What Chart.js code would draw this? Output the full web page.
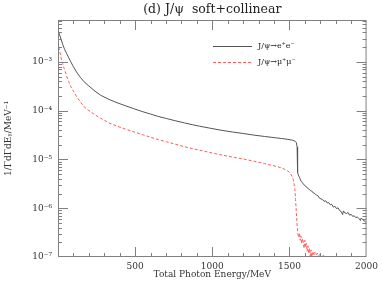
<!DOCTYPE html>
<html lang="en">
<head>
    <meta charset="UTF-8">
    <title>J/psi soft+collinear photon spectrum</title>
    <script src="https://cdn.jsdelivr.net/npm/chart.js"></script>
    <style>
        html, body {
            margin: 0;
            padding: 0;
            background: #ffffff;
        }
        #wrap {
            width: 382px;
            height: 283px;
        }
    </style>
</head>
<body>
    <div id="wrap"><canvas id="spectrum"></canvas></div>

    <script>
        // photon energy (MeV) and 1/Gamma dGamma/dE for J/psi -> e+e-
        const eeEnergy = [5, 10, 20, 30, 40, 55, 70, 83, 100, 120, 145, 169, 200, 240, 276, 330, 383, 440, 489, 550,
            600, 650, 703, 760, 820, 870, 917, 980, 1050, 1130, 1200, 1270, 1340, 1400, 1450, 1490, 1520, 1535, 1545, 1550,
            1553, 1558, 1565, 1575, 1585, 1595, 1605, 1615, 1625, 1635, 1645, 1655, 1665, 1675, 1685, 1695, 1705, 1715,
            1725, 1735, 1745, 1755, 1765, 1775, 1785, 1795, 1805, 1815, 1825, 1835, 1845, 1850, 1860, 1870, 1880, 1890,
            1900, 1910, 1920, 1930, 1940, 1950, 1960, 1965, 1975, 1985, 1995, 2000];
        const eeRate = [4.1e-3, 3.6e-3, 2.9e-3, 2.3e-3, 1.9e-3, 1.5e-3, 1.2e-3, 1.0e-3, 7.9e-4, 6.2e-4, 4.8e-4, 3.9e-4,
            3.2e-4, 2.5e-4, 2.07e-4, 1.7e-4, 1.45e-4, 1.25e-4, 1.1e-4, 9.5e-5,
            8.5e-5, 7.6e-5, 6.9e-5, 6.2e-5, 5.6e-5, 5.15e-5, 4.8e-5, 4.4e-5, 4.0e-5, 3.65e-5, 3.4e-5, 3.15e-5, 2.95e-5,
            2.8e-5, 2.68e-5, 2.58e-5, 2.48e-5, 2.38e-5, 2.2e-5, 1.8e-5,
            5.4e-6, 4.8e-6, 4.3e-6, 3.6e-6, 3.3e-6, 3.0e-6, 2.85e-6, 2.6e-6, 2.5e-6, 2.3e-6, 2.25e-6, 2.05e-6, 2.0e-6,
            1.85e-6, 1.8e-6, 1.6e-6, 1.55e-6, 1.5e-6, 1.38e-6, 1.42e-6, 1.28e-6, 1.3e-6, 1.18e-6, 1.2e-6, 1.05e-6,
            1.1e-6, 9.8e-7, 1.02e-6, 9.0e-7, 8.6e-7, 7.4e-7, 8.8e-7, 8.0e-7, 7.8e-7, 8.2e-7, 7.2e-7,
            7.5e-7, 6.8e-7, 7.0e-7, 6.4e-7, 6.6e-7, 6.2e-7, 5.6e-7, 6.3e-7, 5.8e-7, 5.5e-7, 5.2e-7, 5.3e-7];

        // same for J/psi -> mu+mu-
        const mmEnergy = [5, 10, 20, 30, 40, 55, 70, 83, 100, 120, 145, 169, 200, 240, 276, 330, 383, 440, 489, 550,
            600, 650, 703, 760, 820, 870, 917, 980, 1050, 1130, 1200, 1270, 1340, 1400, 1450, 1490, 1510, 1525, 1535, 1540,
            1545, 1550, 1555, 1560, 1565, 1570, 1575, 1580, 1585, 1590, 1595, 1600, 1605, 1610, 1615, 1620, 1625, 1630,
            1635, 1640, 1645, 1650, 1660, 1665, 1670, 1680, 1690, 1700, 1710, 1720, 1730, 1740, 1750, 1760];
        const mmRate = [2.0e-3, 1.7e-3, 1.2e-3, 9.2e-4, 7.3e-4, 5.2e-4, 3.9e-4, 3.1e-4, 2.5e-4, 1.95e-4, 1.5e-4, 1.2e-4,
            1.0e-4, 8.2e-5, 7.0e-5, 5.6e-5, 4.8e-5, 4.15e-5, 3.7e-5, 3.2e-5,
            2.85e-5, 2.55e-5, 2.3e-5, 2.05e-5, 1.82e-5, 1.67e-5, 1.55e-5, 1.4e-5, 1.25e-5, 1.12e-5, 1.02e-5, 9.2e-6, 8.2e-6,
            7.4e-6, 6.7e-6, 5.8e-6, 5.0e-6, 3.9e-6, 2.5e-6, 1.5e-6,
            8.0e-7, 4.5e-7, 3.0e-7, 2.5e-7, 3.1e-7, 2.2e-7, 2.7e-7, 1.9e-7, 2.4e-7, 2.0e-7, 1.5e-7, 2.2e-7, 1.6e-7,
            1.9e-7, 1.3e-7, 1.7e-7, 1.2e-7, 1.5e-7, 1.05e-7, 1.4e-7, 9.0e-8, 1.3e-7, 1.1e-7, 1.25e-7, 9.5e-8, 1.2e-7,
            1.05e-7, 1.15e-7, 9.0e-8, 1.1e-7, 1.05e-7, 8.0e-8, 1.02e-7, 6.0e-8];

        const xLabels = [500, 1000, 1500, 2000];
        const yDecades = [1e-7, 1e-6, 1e-5, 1e-4, 1e-3];
        const yDecadeText = ['10\u207B\u2077', '10\u207B\u2076', '10\u207B\u2075', '10\u207B\u2074', '10\u207B\u00B3'];
        const plotTitle = '(d) J/\u03C8  soft+collinear';

        const serif = '"DejaVu Serif", "Liberation Serif", serif';

        function toPoints(xs, ys) {
            return xs.map((x, i) => ({ x: x, y: ys[i] }));
        }

        // title over the plot frame, frame, inward ticks on all four sides, legend
        const frameTicks = {
            id: 'frameTicks',
            afterDraw(chart) {
                const ctx = chart.ctx;
                const a = chart.chartArea;
                const xs = chart.scales.x;
                const ys = chart.scales.y;
                ctx.save();

                ctx.font = '12.5px ' + serif;
                ctx.fillStyle = '#222';
                ctx.textAlign = 'center';
                ctx.textBaseline = 'middle';
                ctx.fillText(plotTitle, (a.left + a.right) / 2, 10);

                ctx.strokeStyle = '#808080';
                ctx.lineWidth = 1;
                ctx.strokeRect(a.left + 0.5, a.top + 0.5, a.right - a.left - 1, a.bottom - a.top - 1);

                ctx.beginPath();
                for (let v = 100; v < 2000; v += 100) {
                    const px = Math.round(xs.getPixelForValue(v)) + 0.5;
                    const len = v % 500 === 0 ? 10 : 4;
                    ctx.moveTo(px, a.bottom);
                    ctx.lineTo(px, a.bottom - len);
                    ctx.moveTo(px, a.top);
                    ctx.lineTo(px, a.top + len);
                }
                for (let d = -7; d <= -3; d++) {
                    for (let m = 1; m <= 9; m++) {
                        const v = m * Math.pow(10, d);
                        if (v > ys.max) break;
                        const py = Math.round(ys.getPixelForValue(v)) + 0.5;
                        if (py < a.top || py > a.bottom) continue;
                        const len = m === 1 ? 10 : 4;
                        ctx.moveTo(a.left, py);
                        ctx.lineTo(a.left + len, py);
                        ctx.moveTo(a.right, py);
                        ctx.lineTo(a.right - len, py);
                    }
                }
                ctx.stroke();

                // legend
                ctx.font = '8px ' + serif;
                ctx.textAlign = 'left';
                ctx.textBaseline = 'middle';
                ctx.fillStyle = '#222';
                chart.data.datasets.forEach((ds, i) => {
                    const y = a.top + 26 + i * 16;
                    ctx.beginPath();
                    ctx.strokeStyle = ds.borderColor;
                    ctx.setLineDash(ds.borderDash || []);
                    ctx.moveTo(213, y + 0.5);
                    ctx.lineTo(252, y + 0.5);
                    ctx.stroke();
                    ctx.fillText(ds.label, 258, y);
                });
                ctx.restore();
            }
        };

        new Chart(document.getElementById('spectrum'), {
            type: 'line',
            data: {
                datasets: [{
                    label: 'J/\u03C8\u2192e\u207Ae\u207B',
                    data: toPoints(eeEnergy, eeRate),
                    borderColor: '#555555',
                    borderWidth: 1,
                    pointRadius: 0,
                    tension: 0
                }, {
                    label: 'J/\u03C8\u2192\u03BC\u207A\u03BC\u207B',
                    data: toPoints(mmEnergy, mmRate),
                    borderColor: '#ff5c5c',
                    borderWidth: 1,
                    borderDash: [3, 2],
                    pointRadius: 0,
                    tension: 0
                }]
            },
            options: {
                responsive: true,
                maintainAspectRatio: false,
                animation: false,
                layout: { padding: { left: 0, right: 12, top: 20, bottom: 0 } },
                plugins: {
                    legend: { display: false },
                    tooltip: { enabled: false },
                    title: { display: false }
                },
                scales: {
                    x: {
                        type: 'linear',
                        min: 0,
                        max: 2000,
                        grid: { display: false, drawTicks: false },
                        border: { display: false },
                        afterBuildTicks: s => { s.ticks = xLabels.map(v => ({ value: v })); },
                        afterFit: s => { s.height = 26; },
                        ticks: {
                            padding: 4,
                            maxRotation: 0,
                            autoSkip: false,
                            color: '#333',
                            font: { family: serif, size: 9 },
                            callback: value => String(value)
                        },
                        title: {
                            display: true,
                            text: 'Total Photon Energy/MeV',
                            color: '#333',
                            font: { family: serif, size: 9 },
                            padding: { top: 0, bottom: 3 }
                        }
                    },
                    y: {
                        type: 'logarithmic',
                        min: 1e-7,
                        max: 7.2e-3,
                        grid: { display: false, drawTicks: false },
                        border: { display: false },
                        afterBuildTicks: s => { s.ticks = yDecades.map(v => ({ value: v })); },
                        afterFit: s => { s.width = 58; },
                        ticks: {
                            padding: 6,
                            autoSkip: false,
                            color: '#333',
                            font: { family: serif, size: 9 },
                            callback: function (value) {
                                const i = yDecades.findIndex(d => Math.abs(d - value) / d < 1e-6);
                                return i >= 0 ? yDecadeText[i] : '';
                            }
                        },
                        title: {
                            display: true,
                            text: '1/\u0393d\u0393dE\u1D67/MeV\u207B\u00B9',
                            color: '#333',
                            font: { family: serif, size: 9 },
                            padding: { top: 3, bottom: 0 }
                        }
                    }
                }
            },
            plugins: [frameTicks]
        });
    </script>
</body>
</html>
